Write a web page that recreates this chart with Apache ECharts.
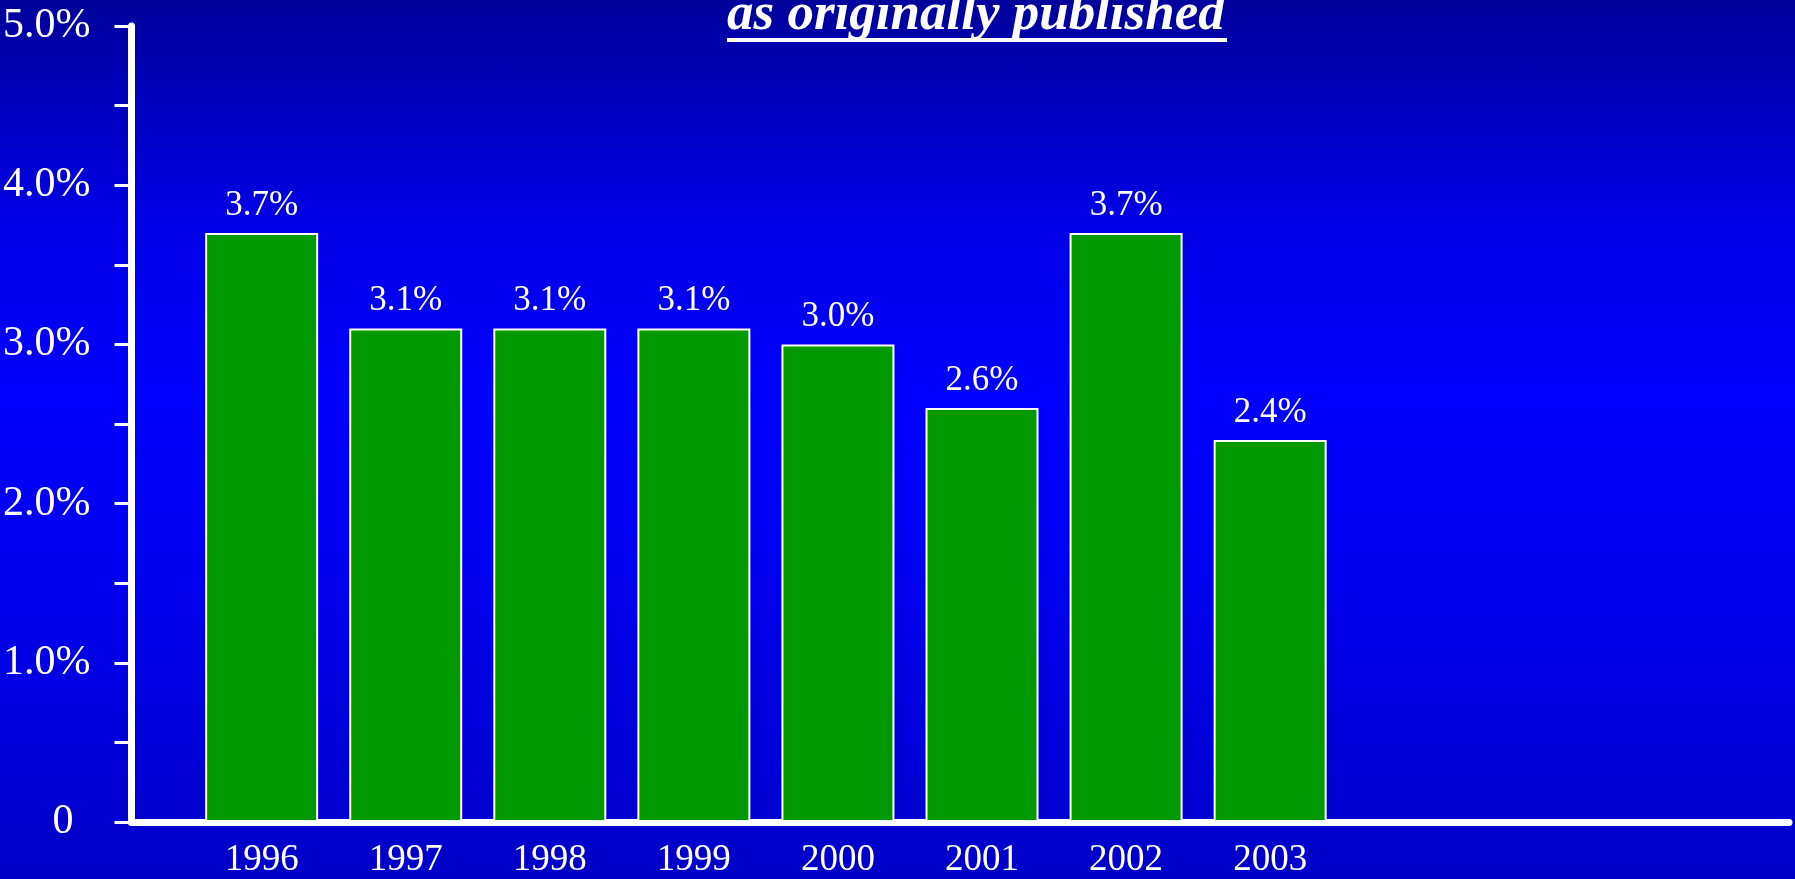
<!DOCTYPE html>
<html>
<head>
<meta charset="utf-8">
<script src="https://cdn.jsdelivr.net/npm/echarts@6/dist/echarts.min.js"></script>
<style>
  html, body { margin: 0; padding: 0; }
  #chart {
    width: 1795px; height: 879px;
    background: linear-gradient(to bottom, #00009c 0%, #0000e6 25%, #0000ff 45%, #0000f0 65%, #0000c8 100%);
  }
</style>
</head>
<body>
<div id="chart"></div>
<script>
const categories = ['1996', '1997', '1998', '1999', '2000', '2001', '2002', '2003'];
const values = [3.7, 3.1, 3.1, 3.1, 3.0, 2.6, 3.7, 2.4];
const yTickLabels = ['0', '1.0%', '2.0%', '3.0%', '4.0%', '5.0%'];
const titleText = 'as originally published';

const FONT = '"Liberation Serif", "Times New Roman", serif';
const chart = echarts.init(document.getElementById('chart'), null, { renderer: 'canvas' });

chart.setOption({
  animation: false,
  backgroundColor: 'transparent',
  title: {
    text: titleText,
    left: 727,
    top: -11,
    padding: 0,
    textStyle: { color: '#fff', fontFamily: FONT, fontSize: 53, fontWeight: 'bold', fontStyle: 'italic' }
  },
  graphic: [
    { type: 'rect', shape: { x: 727, y: 38, width: 500, height: 4 }, style: { fill: '#fff' } }
  ],
  grid: [
    { left: 189.6, top: 26, width: 1152.6, bottom: 57 },
    { left: 124.5, right: 6, top: 26, bottom: 57 }
  ],
  xAxis: [
    {
      type: 'category', gridIndex: 0, data: categories,
      axisLine: { show: false }, axisTick: { show: false },
      axisLabel: { color: '#fff', fontFamily: FONT, fontSize: 37, margin: 20, interval: 0 },
      splitLine: { show: false }
    },
    {
      type: 'value', gridIndex: 1, min: 0, max: 1, offset: 1,
      axisLine: { show: true, lineStyle: { color: '#fff', width: 7 } },
      axisTick: { show: false }, axisLabel: { show: false }, splitLine: { show: false }
    }
  ],
  yAxis: [
    { type: 'value', gridIndex: 0, min: 0, max: 5, interval: 1, show: false, splitLine: { show: false } },
    {
      type: 'value', gridIndex: 1, min: 0, max: 5, interval: 1,
      axisLine: { show: true, lineStyle: { color: '#fff', width: 7 } },
      axisTick: { show: true, length: 17, lineStyle: { color: '#fff', width: 3 } },
      minorTick: { show: true, splitNumber: 2, length: 17, lineStyle: { color: '#fff', width: 3 } },
      axisLabel: {
        color: '#fff', fontFamily: FONT, fontSize: 42, margin: 41,
        formatter: function (v) {
          const i = Math.round(v);
          return i === 0 ? '{z|' + yTickLabels[i] + '}' : yTickLabels[i];
        },
        rich: { z: { color: '#fff', fontFamily: FONT, fontSize: 42, padding: [0, 17, 0, 0] } }
      },
      splitLine: { show: false }
    }
  ],
  series: [
    {
      type: 'bar', xAxisIndex: 0, yAxisIndex: 0, data: values, barWidth: 113, z: 3,
      itemStyle: { color: '#009900', borderColor: '#ffffff', borderWidth: 2 },
      label: {
        show: true, position: 'top', distance: 10, color: '#fff', fontFamily: FONT, fontSize: 35,
        formatter: function (p) { return p.value.toFixed(1) + '%'; }
      }
    }
  ]
});
</script>
</body>
</html>
